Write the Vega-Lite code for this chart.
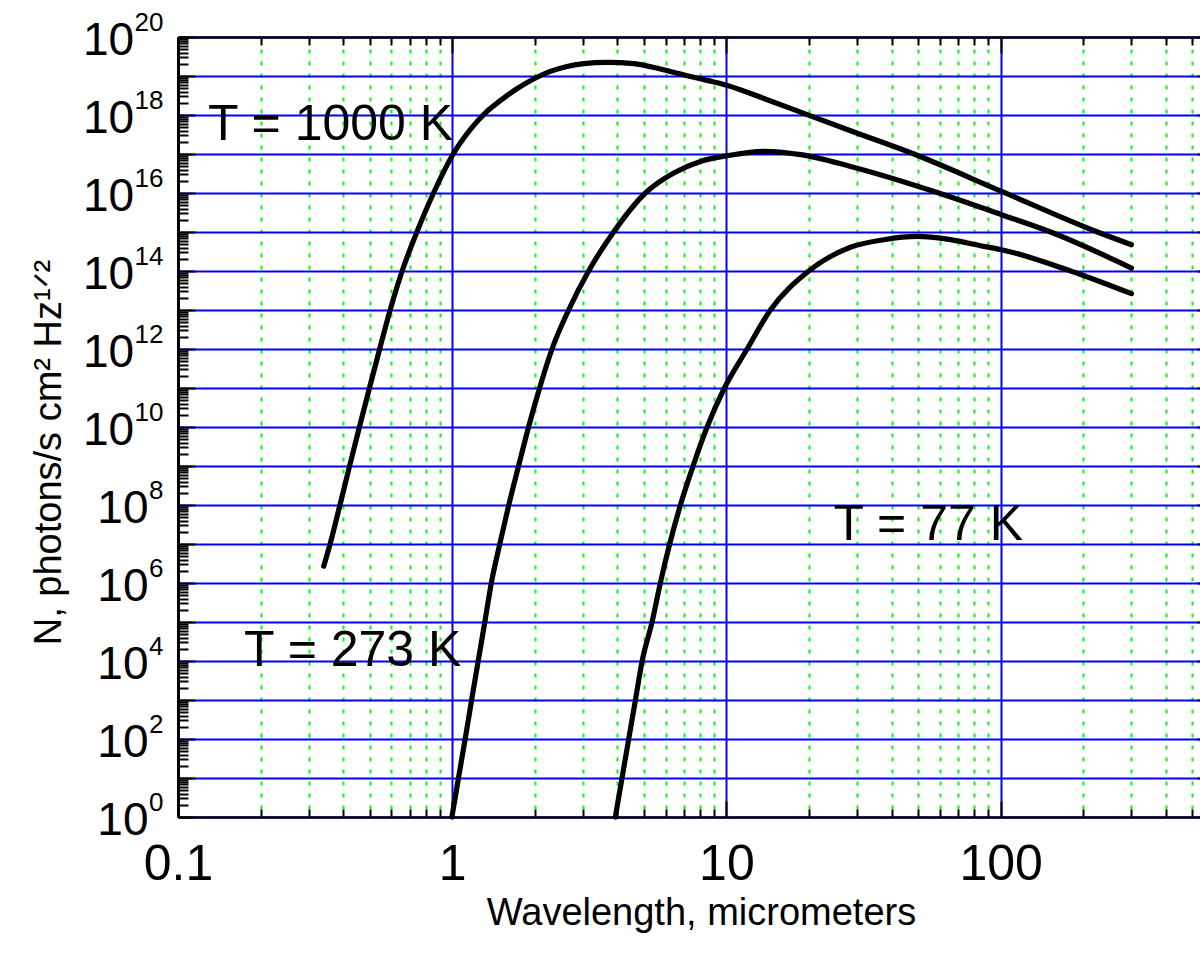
{
  "$schema": "https://vega.github.io/schema/vega-lite/v6.json",
  "width": 1036,
  "height": 780,
  "autosize": {"type": "none"},
  "padding": {"left": 178, "top": 37, "right": -14, "bottom": 137},
  "background": "white",
  "config": {
    "view": {"stroke": null},
    "axis": {
      "labelFont": "Liberation Sans", "titleFont": "Liberation Sans",
      "labelColor": "black", "titleColor": "black", "titleFontWeight": "normal",
      "labelFlush": false, "labelOverlap": false,
      "tickColor": "black", "domainColor": "black"
    }
  },
  "data": {"values": [
    {"T": "1000 K", "lam": 0.340, "N": 2.7e6},
    {"T": "1000 K", "lam": 0.3587, "N": 1e7},
    {"T": "1000 K", "lam": 0.3896, "N": 1e8},
    {"T": "1000 K", "lam": 0.4224, "N": 1e9},
    {"T": "1000 K", "lam": 0.4588, "N": 1e10},
    {"T": "1000 K", "lam": 0.4991, "N": 1e11},
    {"T": "1000 K", "lam": 0.5438, "N": 1e12},
    {"T": "1000 K", "lam": 0.5939, "N": 1e13},
    {"T": "1000 K", "lam": 0.6568, "N": 1e14},
    {"T": "1000 K", "lam": 0.7434, "N": 1e15},
    {"T": "1000 K", "lam": 0.8548, "N": 1e16},
    {"T": "1000 K", "lam": 1.0084, "N": 1e17},
    {"T": "1000 K", "lam": 1.163, "N": 4.2e17},
    {"T": "1000 K", "lam": 1.339, "N": 1.24e18},
    {"T": "1000 K", "lam": 1.497, "N": 2.33e18},
    {"T": "1000 K", "lam": 1.722, "N": 4.72e18},
    {"T": "1000 K", "lam": 1.98, "N": 8.4e18},
    {"T": "1000 K", "lam": 2.279, "N": 1.31e19},
    {"T": "1000 K", "lam": 2.622, "N": 1.76e19},
    {"T": "1000 K", "lam": 3.015, "N": 2.07e19},
    {"T": "1000 K", "lam": 3.669, "N": 2.23e19},
    {"T": "1000 K", "lam": 4.588, "N": 2.07e19},
    {"T": "1000 K", "lam": 5.742, "N": 1.51e19},
    {"T": "1000 K", "lam": 7.187, "N": 1.02e19},
    {"T": "1000 K", "lam": 8.503, "N": 7.71e18},
    {"T": "1000 K", "lam": 10.08, "N": 5.74e18},
    {"T": "1000 K", "lam": 14.08, "N": 2.47e18},
    {"T": "1000 K", "lam": 19.7, "N": 1.02e18},
    {"T": "1000 K", "lam": 28.35, "N": 3.95e17},
    {"T": "1000 K", "lam": 48.28, "N": 1e17},
    {"T": "1000 K", "lam": 100.8, "N": 1.1e16},
    {"T": "1000 K", "lam": 225.4, "N": 1e15},
    {"T": "1000 K", "lam": 300, "N": 4.72e14},

    {"T": "273 K", "lam": 0.9975, "N": 1},
    {"T": "273 K", "lam": 1.054, "N": 1e1},
    {"T": "273 K", "lam": 1.115, "N": 1e2},
    {"T": "273 K", "lam": 1.177, "N": 1e3},
    {"T": "273 K", "lam": 1.244, "N": 1e4},
    {"T": "273 K", "lam": 1.315, "N": 1e5},
    {"T": "273 K", "lam": 1.389, "N": 1e6},
    {"T": "273 K", "lam": 1.491, "N": 1e7},
    {"T": "273 K", "lam": 1.608, "N": 1e8},
    {"T": "273 K", "lam": 1.746, "N": 1e9},
    {"T": "273 K", "lam": 1.899, "N": 1e10},
    {"T": "273 K", "lam": 2.083, "N": 1e11},
    {"T": "273 K", "lam": 2.312, "N": 1e12},
    {"T": "273 K", "lam": 2.658, "N": 1e13},
    {"T": "273 K", "lam": 3.144, "N": 1e14},
    {"T": "273 K", "lam": 3.879, "N": 1e15},
    {"T": "273 K", "lam": 5.064, "N": 1e16},
    {"T": "273 K", "lam": 6.424, "N": 3.26e16},
    {"T": "273 K", "lam": 8.04, "N": 6.46e16},
    {"T": "273 K", "lam": 10.08, "N": 9.04e16},
    {"T": "273 K", "lam": 13.68, "N": 1.17e17},
    {"T": "273 K", "lam": 18.63, "N": 9.6e16},
    {"T": "273 K", "lam": 28.35, "N": 4.81e16},
    {"T": "273 K", "lam": 59.54, "N": 1e16},
    {"T": "273 K", "lam": 100.8, "N": 2.78e15},
    {"T": "273 K", "lam": 152.2, "N": 1e15},
    {"T": "273 K", "lam": 300, "N": 1.19e14},

    {"T": "77 K", "lam": 3.935, "N": 1},
    {"T": "77 K", "lam": 4.162, "N": 1e1},
    {"T": "77 K", "lam": 4.403, "N": 1e2},
    {"T": "77 K", "lam": 4.658, "N": 1e3},
    {"T": "77 K", "lam": 4.928, "N": 1e4},
    {"T": "77 K", "lam": 5.356, "N": 1e5},
    {"T": "77 K", "lam": 5.742, "N": 1e6},
    {"T": "77 K", "lam": 6.21, "N": 1e7},
    {"T": "77 K", "lam": 6.795, "N": 1e8},
    {"T": "77 K", "lam": 7.557, "N": 1e9},
    {"T": "77 K", "lam": 8.503, "N": 1e10},
    {"T": "77 K", "lam": 9.833, "N": 1e11},
    {"T": "77 K", "lam": 11.9, "N": 1e12},
    {"T": "77 K", "lam": 14.47, "N": 1e13},
    {"T": "77 K", "lam": 19.97, "N": 1e14},
    {"T": "77 K", "lam": 28.35, "N": 4.07e14},
    {"T": "77 K", "lam": 37.52, "N": 6.35e14},
    {"T": "77 K", "lam": 49.66, "N": 7.71e14},
    {"T": "77 K", "lam": 65.7, "N": 6.35e14},
    {"T": "77 K", "lam": 86.9, "N": 4.28e14},
    {"T": "77 K", "lam": 100.8, "N": 3.52e14},
    {"T": "77 K", "lam": 180.1, "N": 1e14},
    {"T": "77 K", "lam": 300, "N": 2.62e13}
  ]},
  "resolve": {"axis": {"x": "independent", "y": "independent"}},
  "layer": [
    {
      "mark": {"type": "line", "color": "black", "strokeWidth": 5.2, "strokeCap": "round", "strokeJoin": "round", "interpolate": "monotone"},
      "encoding": {
        "x": {"field": "lam", "type": "quantitative",
          "scale": {"type": "log", "domain": [0.1, 600], "nice": false},
          "axis": {"orient": "bottom", "values": [0.1, 1, 10, 100],
            "grid": true, "gridColor": "#0000ff", "gridWidth": 2,
            "ticks": true, "tickSize": -16, "tickWidth": 2,
            "domain": true, "domainWidth": 2.5, "labels": false, "title": null}},
        "y": {"field": "N", "type": "quantitative",
          "scale": {"type": "log", "domain": [1, 1e20], "nice": false},
          "axis": {"orient": "left",
            "values": [1, 1e1, 1e2, 1e3, 1e4, 1e5, 1e6, 1e7, 1e8, 1e9, 1e10, 1e11, 1e12, 1e13, 1e14, 1e15, 1e16, 1e17, 1e18, 1e19, 1e20],
            "grid": true, "gridColor": "#0000ff", "gridWidth": 2,
            "ticks": true, "tickSize": -17, "tickWidth": 2,
            "domain": true, "domainWidth": 3, "labels": false,
            "title": "N, photons/s cm² Hz¹ᐟ²", "titleFontSize": 38,
            "titleAngle": 270, "titleX": -118, "titleY": 415,
            "titleAlign": "center", "titleBaseline": "alphabetic"}},
        "detail": {"field": "T"}
      }
    },
    {
      "mark": {"type": "point", "opacity": 0},
      "encoding": {
        "x": {"field": "lam", "type": "quantitative",
          "scale": {"type": "log", "domain": [0.1, 600], "nice": false},
          "axis": {"orient": "bottom",
            "values": [0.2, 0.3, 0.4, 0.5, 0.6, 0.7, 0.8, 0.9, 2, 3, 4, 5, 6, 7, 8, 9, 20, 30, 40, 50, 60, 70, 80, 90, 200, 300, 400, 500],
            "grid": true, "gridColor": "#00ff00", "gridWidth": 2, "gridDash": [4, 8],
            "ticks": true, "tickSize": -8, "tickWidth": 2,
            "domain": false, "labels": false, "title": null}},
        "y": {"field": "N", "type": "quantitative",
          "scale": {"type": "log", "domain": [1, 1e20], "nice": false},
          "axis": {"orient": "left",
            "values": [2e0,3e0,4e0,5e0,6e0,7e0,8e0,9e0,2e1,3e1,4e1,5e1,6e1,7e1,8e1,9e1,2e2,3e2,4e2,5e2,6e2,7e2,8e2,9e2,2e3,3e3,4e3,5e3,6e3,7e3,8e3,9e3,2e4,3e4,4e4,5e4,6e4,7e4,8e4,9e4,2e5,3e5,4e5,5e5,6e5,7e5,8e5,9e5,2e6,3e6,4e6,5e6,6e6,7e6,8e6,9e6,2e7,3e7,4e7,5e7,6e7,7e7,8e7,9e7,2e8,3e8,4e8,5e8,6e8,7e8,8e8,9e8,2e9,3e9,4e9,5e9,6e9,7e9,8e9,9e9,2e10,3e10,4e10,5e10,6e10,7e10,8e10,9e10,2e11,3e11,4e11,5e11,6e11,7e11,8e11,9e11,2e12,3e12,4e12,5e12,6e12,7e12,8e12,9e12,2e13,3e13,4e13,5e13,6e13,7e13,8e13,9e13,2e14,3e14,4e14,5e14,6e14,7e14,8e14,9e14,2e15,3e15,4e15,5e15,6e15,7e15,8e15,9e15,2e16,3e16,4e16,5e16,6e16,7e16,8e16,9e16,2e17,3e17,4e17,5e17,6e17,7e17,8e17,9e17,2e18,3e18,4e18,5e18,6e18,7e18,8e18,9e18,2e19,3e19,4e19,5e19,6e19,7e19,8e19,9e19],
            "grid": false, "ticks": true, "tickSize": -10, "tickWidth": 2,
            "domain": false, "labels": false, "title": null}}
      }
    },
    {
      "mark": {"type": "point", "opacity": 0},
      "encoding": {
        "x": {"field": "lam", "type": "quantitative",
          "scale": {"type": "log", "domain": [0.1, 600], "nice": false},
          "axis": {"orient": "bottom", "values": [0.1, 1, 10, 100],
            "grid": false, "ticks": false, "tickSize": 0, "domain": false,
            "labels": true, "labelExpr": "format(datum.value, '~g')",
            "labelFontSize": 50, "labelPadding": 22, "labelBaseline": "top",
            "title": "Wavelength, micrometers", "titleFontSize": 38,
            "titleX": 523, "titleY": 107, "titleAlign": "center", "titleBaseline": "alphabetic"}},
        "y": {"field": "N", "type": "quantitative",
          "scale": {"type": "log", "domain": [1, 1e20], "nice": false},
          "axis": {"orient": "left", "values": [1, 1e2, 1e4, 1e6, 1e8],
            "grid": false, "ticks": false, "tickSize": 0, "domain": false,
            "labelExpr": "'10'", "labelFontSize": 46, "labelPadding": 30,
            "labelAlign": "right", "labelBaseline": "alphabetic", "labelOffset": 17,
            "title": null}}
      }
    },
    {
      "mark": {"type": "point", "opacity": 0},
      "encoding": {
        "x": {"field": "lam", "type": "quantitative",
          "scale": {"type": "log", "domain": [0.1, 600], "nice": false},
          "axis": {"orient": "top", "values": [0.1, 1, 10, 100],
            "grid": false, "ticks": true, "tickSize": -16, "tickWidth": 2,
            "domain": true, "domainWidth": 2.5, "labels": false, "title": null}},
        "y": {"field": "N", "type": "quantitative",
          "scale": {"type": "log", "domain": [1, 1e20], "nice": false},
          "axis": {"orient": "left", "values": [1e10, 1e12, 1e14, 1e16, 1e18, 1e20],
            "grid": false, "ticks": false, "tickSize": 0, "domain": false,
            "labelExpr": "'10'", "labelFontSize": 46, "labelPadding": 44.4,
            "labelAlign": "right", "labelBaseline": "alphabetic", "labelOffset": 17,
            "title": null}}
      }
    },
    {
      "mark": {"type": "point", "opacity": 0},
      "encoding": {
        "x": {"field": "lam", "type": "quantitative",
          "scale": {"type": "log", "domain": [0.1, 600], "nice": false},
          "axis": {"orient": "top",
            "values": [0.2, 0.3, 0.4, 0.5, 0.6, 0.7, 0.8, 0.9, 2, 3, 4, 5, 6, 7, 8, 9, 20, 30, 40, 50, 60, 70, 80, 90, 200, 300, 400, 500],
            "grid": false, "ticks": true, "tickSize": -8, "tickWidth": 2,
            "domain": false, "labels": false, "title": null}},
        "y": {"field": "N", "type": "quantitative",
          "scale": {"type": "log", "domain": [1, 1e20], "nice": false},
          "axis": {"orient": "left",
            "values": [1, 1e2, 1e4, 1e6, 1e8, 1e10, 1e12, 1e14, 1e16, 1e18, 1e20],
            "grid": false, "ticks": false, "tickSize": 0, "domain": false,
            "labelExpr": "format(round(log(datum.value) / LN10), 'd')",
            "labelFontSize": 26, "labelPadding": 15,
            "labelAlign": "right", "labelBaseline": "alphabetic", "labelOffset": -7,
            "title": null}}
      }
    },
    {
      "data": {"values": [
        {"label": "T = 1000 K", "lam": 0.1287, "N": 2.3e17},
        {"label": "T = 273 K", "lam": 0.1742, "N": 7.6e3},
        {"label": "T = 77 K", "lam": 24.58, "N": 1.29e7}
      ]},
      "mark": {"type": "text", "align": "left", "baseline": "alphabetic", "fontSize": 50, "font": "Liberation Sans", "color": "black"},
      "encoding": {
        "x": {"field": "lam", "type": "quantitative",
          "scale": {"type": "log", "domain": [0.1, 600], "nice": false},
          "axis": null},
        "y": {"field": "N", "type": "quantitative",
          "scale": {"type": "log", "domain": [1, 1e20], "nice": false},
          "axis": {"orient": "right",
            "values": [1, 1e1, 1e2, 1e3, 1e4, 1e5, 1e6, 1e7, 1e8, 1e9, 1e10, 1e11, 1e12, 1e13, 1e14, 1e15, 1e16, 1e17, 1e18, 1e19, 1e20],
            "grid": false, "ticks": true, "tickSize": -17, "tickWidth": 2,
            "domain": true, "domainWidth": 2.5, "labels": false, "title": null}},
        "text": {"field": "label"}
      }
    }
  ]
}
